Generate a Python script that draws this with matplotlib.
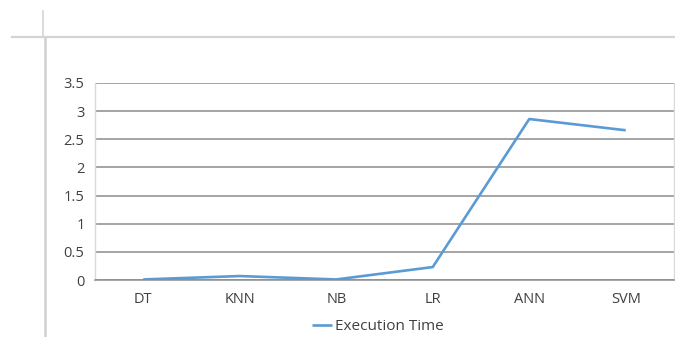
import matplotlib
matplotlib.use('Agg')
import matplotlib.pyplot as plt
from matplotlib.lines import Line2D

plt.rcParams['font.family'] = ['Open Sans', 'DejaVu Sans']

models = ["DT", "KNN", "NB", "LR", "ANN", "SVM"]
exec_time = [0.01, 0.07, 0.01, 0.23, 2.86, 2.66]
yticks = [0, 0.5, 1, 1.5, 2, 2.5, 3, 3.5]

W, H = 675, 337
fig = plt.figure(figsize=(W / 100, H / 100), dpi=100)
ax = fig.add_axes([95 / W, 1 - 280 / H, 579 / W, 197 / H])

# page frame lines around the chart
fig.add_artist(Line2D([43 / W, 43 / W], [1 - 11 / H, 1 - 37 / H], transform=fig.transFigure,
                      color='#d4d4d4', lw=1.2))
fig.add_artist(Line2D([45 / W, 45 / W], [1 - 37 / H, 0], transform=fig.transFigure,
                      color='#d0d0d0', lw=1.8))
fig.add_artist(Line2D([12 / W, 1], [1 - 36.5 / H, 1 - 36.5 / H], transform=fig.transFigure,
                      color='#d4d4d4', lw=1.6))

x = range(len(models))
ax.plot(x, exec_time, color='#5b9bd5', lw=1.9, label='Execution Time', solid_capstyle='butt')

ax.set_xlim(-0.5, len(models) - 0.5)
ax.set_ylim(0, 3.5)
ax.set_yticks(yticks)
ax.set_yticklabels([f"{v:g}" for v in yticks])
ax.set_xticks(list(x))
ax.set_xticklabels(models)
ax.yaxis.grid(True, color='#8c8c8c', lw=1.1)
ax.set_axisbelow(True)
ax.tick_params(length=0, labelsize=10.5, colors='#404040')
ax.tick_params(axis='y', pad=7.5)
ax.tick_params(axis='x', pad=8.5)

for side in ['left', 'right']:
    ax.spines[side].set_color('#d9d9d9')
    ax.spines[side].set_linewidth(1)
ax.spines['top'].set_visible(False)
ax.spines['bottom'].set_color('#8c8c8c')
ax.spines['bottom'].set_linewidth(1.1)

fig.legend(loc='center', bbox_to_anchor=(378 / W, 1 - 327 / H), frameon=False,
           fontsize=11, handlelength=1.3, handletextpad=0.25, labelcolor='#404040')

fig.savefig('out.png', dpi=100)
